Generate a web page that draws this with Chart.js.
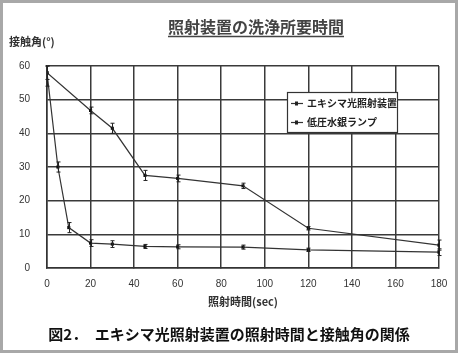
<!DOCTYPE html>
<html>
<head>
<meta charset="utf-8">
<script src="https://cdn.jsdelivr.net/npm/chart.js@4"></script>
<style>
  html, body { margin: 0; padding: 0; background: #fff; }
  #wrap { position: relative; width: 458px; height: 353px; }
  #frame { position: absolute; left: 0; top: 0; width: 458px; height: 353px; box-sizing: border-box; border: 3px solid #a8a8a8; pointer-events: none; }
  canvas { position: absolute; left: 0; top: 0; background: #fff; }
</style>
</head>
<body>
<div id="wrap">
  <canvas id="chart" width="458" height="353"></canvas>
  <div id="frame"></div>
</div>
<script>
const chartTitle = '照射装置の洗浄所要時間';
const yTitle = '接触角(°)';
const xTitle = '照射時間(sec)';
const caption = '図2．　エキシマ光照射装置の照射時間と接触角の関係';

const excimerLabel = 'エキシマ光照射装置';
const excimerTimes = [0, 5, 10, 20, 30, 45, 60, 90, 120, 180];
const excimerAngles = [58, 30, 12, 7.4, 7.1, 6.4, 6.3, 6.2, 5.4, 4.7];
const excimerErrors = [4, 1.5, 1.5, 1, 1, 0.6, 0.6, 0.6, 0.5, 1];

const mercuryLabel = '低圧水銀ランプ';
const mercuryTimes = [0, 20, 30, 45, 60, 90, 120, 180];
const mercuryAngles = [58, 46.8, 41.5, 27.5, 26.6, 24.4, 11.8, 6.8];
const mercuryErrors = [2, 1, 1.5, 1.5, 1, 0.8, 0.5, 1.5];

const toPoints = (xs, ys) => xs.map((x, i) => ({ x: x, y: ys[i] }));

const extras = {
  id: 'extras',
  afterDatasetsDraw(chart) {
    // error bars
    const ctx = chart.ctx;
    const xs = chart.scales.x;
    const ys = chart.scales.y;
    const errs = [excimerErrors, mercuryErrors];
    ctx.save();
    ctx.strokeStyle = '#222';
    ctx.lineWidth = 1;
    chart.data.datasets.forEach((ds, di) => {
      ds.data.forEach((p, i) => {
        const e = errs[di][i];
        const px = Math.round(xs.getPixelForValue(p.x)) + 0.5;
        const top = ys.getPixelForValue(Math.min(60, p.y + e));
        const bot = ys.getPixelForValue(p.y - e);
        ctx.beginPath();
        ctx.moveTo(px, top); ctx.lineTo(px, bot);
        ctx.moveTo(px - 2, top); ctx.lineTo(px + 2, top);
        ctx.moveTo(px - 2, bot); ctx.lineTo(px + 2, bot);
        ctx.stroke();
      });
    });
    ctx.restore();
  },
  afterDraw(chart) {
    const ctx = chart.ctx;
    const area = chart.chartArea;
    ctx.save();
    ctx.fillStyle = '#444';
    ctx.textBaseline = 'middle';

    // title with underline
    ctx.font = 'bold 16px "Noto Sans CJK JP"';
    ctx.textAlign = 'center';
    ctx.fillText(chartTitle, 256, 27);
    const tw = ctx.measureText(chartTitle).width;
    ctx.strokeStyle = '#444';
    ctx.lineWidth = 1.5;
    ctx.beginPath();
    ctx.moveTo(256 - tw / 2, 36.5);
    ctx.lineTo(256 + tw / 2, 36.5);
    ctx.stroke();

    // y title
    ctx.fillStyle = '#333';
    ctx.font = 'bold 11px "Noto Sans CJK JP"';
    ctx.textAlign = 'left';
    ctx.fillText(yTitle, 9, 42);

    // x title
    ctx.font = 'bold 11px "Noto Sans CJK JP"';
    ctx.textAlign = 'center';
    ctx.fillText(xTitle, (area.left + area.right) / 2, 302);

    // caption
    ctx.fillStyle = '#111';
    ctx.font = 'bold 15px "Noto Sans CJK JP"';
    ctx.fillText(caption, 229, 334);

    // legend
    const lx = 287, ly = 92, lw = 110, lh = 40;
    ctx.fillStyle = '#fff';
    ctx.fillRect(lx, ly, lw, lh);
    ctx.strokeStyle = '#333';
    ctx.lineWidth = 1.2;
    ctx.strokeRect(lx + 0.5, ly + 0.5, lw, lh);
    ctx.font = 'bold 10px "Noto Sans CJK JP"';
    ctx.textAlign = 'left';
    ctx.fillStyle = '#222';
    chart.data.datasets.forEach((ds, i) => {
      const y = ly + 11 + i * 19;
      ctx.beginPath();
      ctx.moveTo(lx + 4, y + 0.5);
      ctx.lineTo(lx + 16, y + 0.5);
      ctx.stroke();
      ctx.fillRect(lx + 8, y - 1.5, 3, 4);
      ctx.fillText(ds.label, lx + 20, y);
    });
    ctx.restore();
  }
};

new Chart(document.getElementById('chart'), {
  type: 'scatter',
  data: {
    datasets: [
      {
        label: excimerLabel,
        data: toPoints(excimerTimes, excimerAngles),
        showLine: true,
        borderColor: '#333',
        borderWidth: 1.2,
        backgroundColor: '#111',
        pointStyle: 'rect',
        pointRadius: 2.2,
        pointBorderWidth: 0
      },
      {
        label: mercuryLabel,
        data: toPoints(mercuryTimes, mercuryAngles),
        showLine: true,
        borderColor: '#333',
        borderWidth: 1.2,
        backgroundColor: '#111',
        pointStyle: 'rect',
        pointRadius: 2.2,
        pointBorderWidth: 0
      }
    ]
  },
  options: {
    responsive: false,
    animation: false,
    events: [],
    layout: { padding: { left: 0, right: 19, top: 66, bottom: 0 } },
    plugins: { legend: { display: false }, title: { display: false }, tooltip: { enabled: false } },
    scales: {
      x: {
        type: 'linear',
        min: 0,
        max: 180,
        afterFit: (s) => { s.height = 85; },
        grid: { color: '#3a3a3a', lineWidth: 1.5, tickLength: 0 },
        border: { color: '#333', width: 1.5 },
        ticks: { stepSize: 20, padding: 10, color: '#333', font: { family: 'Liberation Sans', size: 10 } }
      },
      y: {
        min: 0,
        max: 60,
        afterFit: (s) => { s.width = 47; },
        grid: { color: '#3a3a3a', lineWidth: 1.5, tickLength: 0 },
        border: { color: '#333', width: 1.5 },
        ticks: { stepSize: 10, padding: 17, color: '#333', font: { family: 'Liberation Sans', size: 10 } }
      }
    }
  },
  plugins: [extras]
});
</script>
</body>
</html>
